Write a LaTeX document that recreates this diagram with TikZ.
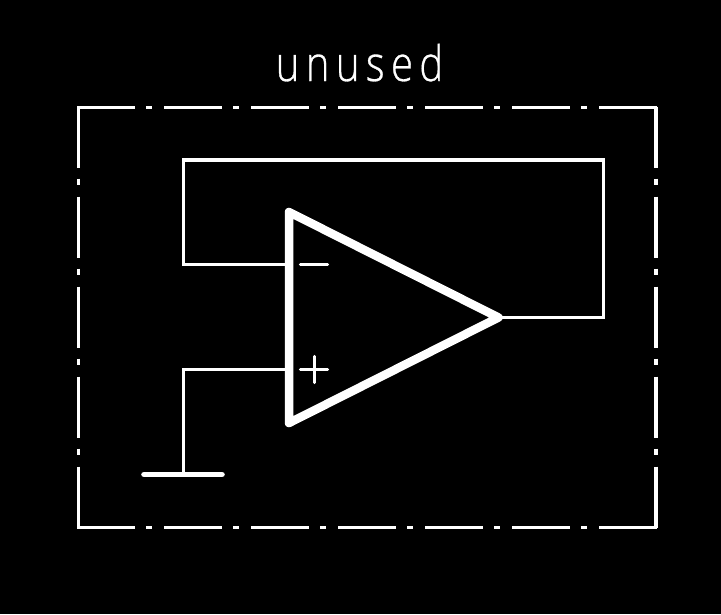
\documentclass[tikz,border=0pt]{standalone}
\usepackage{fontspec}
\newfontfamily\labelfont[LetterSpace=13,FakeStretch=0.82,FakeBold=0.6]{Open Sans Light}
\tikzset{
  wire/.style={draw=white,line width=3.6pt},
  frameh/.style={draw=white,line width=3.4pt,dash pattern=on 58pt off 11pt on 6pt off 12pt},
  framev/.style={draw=white,line width=3.4pt,dash pattern=on 61pt off 11pt on 6pt off 12pt},
  opamp/.style={draw=white,line width=8.5pt,line join=round},
  sign/.style={draw=white,line width=3.4pt,line cap=round},
  groundbar/.style={draw=white,line width=5.6pt,line cap=round},
}
\begin{document}
\begin{tikzpicture}[x=1pt,y=-1pt]
\useasboundingbox (0,0) rectangle (721,614);
\fill[black] (0,0) rectangle (721,614);
% frame
\coordinate (ftl) at (77,107.5);
\coordinate (ftr) at (658,107.5);
\coordinate (fbl) at (77,527.5);
\coordinate (fbr) at (658,527.5);
\coordinate (fvtl) at (78.5,106.5);
\coordinate (fvbl) at (78.5,529);
\coordinate (fvtr) at (656,106.5);
\coordinate (fvbr) at (656,529);
\draw[frameh] (ftl) -- (ftr);
\draw[frameh] (fbl) -- (fbr);
\draw[framev] (fvtl) -- (fvbl);
\draw[framev] (fvtr) -- (fvbr);
% label
\node[text=white,inner sep=0pt,anchor=base,font=\labelfont\fontsize{49}{49}\selectfont] (lbl) at (359.5,81) {unused};
% op-amp
\coordinate (ta) at (289,212);
\coordinate (tb) at (289,423);
\coordinate (out) at (498.5,317.5);
\coordinate (inm) at (289,264.5);
\coordinate (inp) at (289,369.5);
\coordinate (c1) at (183.5,264.5);
\coordinate (c2) at (183.5,160);
\coordinate (c3) at (603.5,160);
\coordinate (c4) at (603.5,317.5);
\coordinate (c5) at (183.5,369.5);
\coordinate (gnd) at (183.5,474.5);
\coordinate (g1) at (144,474.5);
\coordinate (g2) at (222,474.5);
\draw[wire,miter limit=4] (inm) -- (c1) -- (c2) -- (c3) -- (c4) -- (out);
\draw[wire] (inp) -- (c5) -- (gnd);
\draw[groundbar] (g1) -- (g2);
\draw[opamp] (ta) -- (tb) -- (out) -- cycle;
\coordinate (m1) at (300.5,264.5);
\coordinate (m2) at (327.5,264.5);
\coordinate (p1) at (300.5,369.5);
\coordinate (p2) at (327.5,369.5);
\coordinate (p3) at (314.5,356.5);
\coordinate (p4) at (314.5,382.5);
\draw[sign] (m1) -- (m2);
\draw[sign] (p1) -- (p2);
\draw[sign] (p3) -- (p4);
\end{tikzpicture}
\end{document}
